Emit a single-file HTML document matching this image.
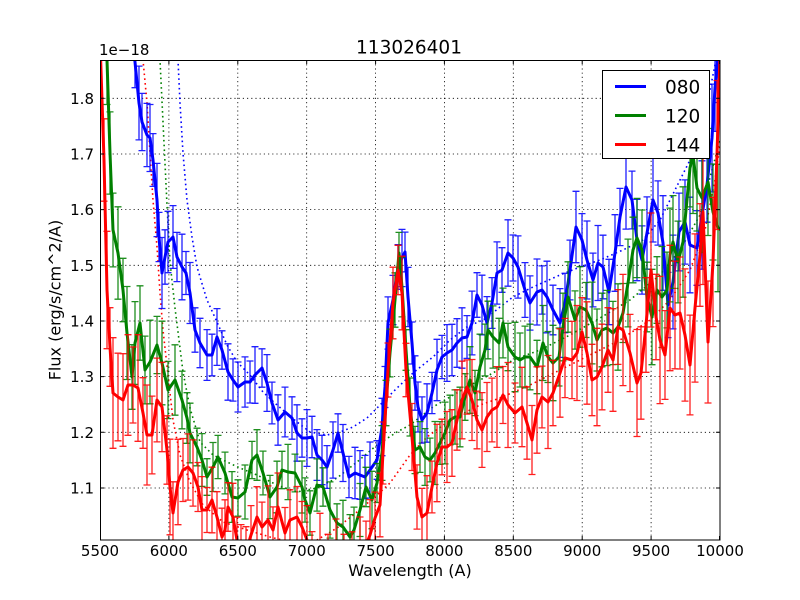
<!DOCTYPE html>
<html>
<head>
<meta charset="utf-8">
<style>
  html,body{margin:0;padding:0;background:#fff;}
  svg{display:block;}
  text{font-family:"DejaVu Sans","Liberation Sans",sans-serif;fill:#000;}
</style>
</head>
<body>
<svg id="chart" width="800" height="600" viewBox="0 0 800 600" xmlns="http://www.w3.org/2000/svg">
  <defs>
    <clipPath id="plot"><rect x="100" y="60" width="620" height="480"/></clipPath>
  </defs>
  <rect x="0" y="0" width="800" height="600" fill="#fff"/>
  <rect x="100" y="60" width="620" height="480" fill="#fff"/>

  <!-- grid -->
  <g stroke="#000" stroke-width="0.8" stroke-dasharray="1.2,3" fill="none">
    <line x1="168.9" y1="60" x2="168.9" y2="540"/>
    <line x1="237.8" y1="60" x2="237.8" y2="540"/>
    <line x1="306.7" y1="60" x2="306.7" y2="540"/>
    <line x1="375.6" y1="60" x2="375.6" y2="540"/>
    <line x1="444.4" y1="60" x2="444.4" y2="540"/>
    <line x1="513.3" y1="60" x2="513.3" y2="540"/>
    <line x1="582.2" y1="60" x2="582.2" y2="540"/>
    <line x1="651.1" y1="60" x2="651.1" y2="540"/>
    <line x1="100" y1="488" x2="720" y2="488"/>
    <line x1="100" y1="432.3" x2="720" y2="432.3"/>
    <line x1="100" y1="376.6" x2="720" y2="376.6"/>
    <line x1="100" y1="321" x2="720" y2="321"/>
    <line x1="100" y1="265.3" x2="720" y2="265.3"/>
    <line x1="100" y1="209.6" x2="720" y2="209.6"/>
    <line x1="100" y1="154" x2="720" y2="154"/>
    <line x1="100" y1="98.3" x2="720" y2="98.3"/>
  </g>

  <g clip-path="url(#plot)">
    <!-- dotted continuum curves -->
    <polyline fill="none" stroke="#0000ff" stroke-width="1.6" stroke-dasharray="1.6,3.2" points="176,40 178,60 180,103 183,153 187,200 192,237 197,267 207,300 217,322 227,345 237,362 250,375 263,392 277,405 297,422 310,432 327,435 340,432 353,427 367,418 383,402 397,388 413,373 433,357 450,340 467,327 487,318 500,307 513,297 533,287 560,275 580,267 600,260 623,250 643,240 660,220 670,200 680,180 690,160 700,130 710,90 717,55 720,40"/>
    <polyline fill="none" stroke="#008000" stroke-width="1.6" stroke-dasharray="1.6,3.2" points="158,20 160,60 163,122 167,205 170,262 175,308 183,372 190,408 200,442 213,455 227,462 240,468 257,475 277,485 297,492 317,488 337,478 357,462 377,445 397,432 410,425 433,407 450,397 467,387 493,373 513,360 540,350 570,335 600,318 630,300 660,275 680,250 700,215 712,170 720,140"/>
    <polyline fill="none" stroke="#ff0000" stroke-width="1.6" stroke-dasharray="1.6,3.2" points="142,40 143,60 147,103 150,153 153,200 157,247 160,293 163,330 168,375 173,420 180,455 190,482 203,505 223,522 247,530 270,537 290,542 317,540 337,528 357,512 377,495 390,483 410,455 427,437 450,420 480,405 500,398 530,385 560,370 590,355 620,340 650,320 670,300 690,270 705,230 715,180 722,130"/>

    <!-- blue series -->
    <g id="eb-blue"></g>
    <polyline id="blue" fill="none" stroke="#0000ff" stroke-width="3" stroke-linejoin="round" points="100,-300 112,-150 122,-50 130,20 135,62 139,103 142,122 147,135 150,138 153,160 157,200 159,237 162,273 165,257 168,242 173,237 177,257 182,267 186,273 190,293 195,330 200,343 207,355 212,355 217,337 222,350 228,372 233,380 238,387 245,382 250,382 255,375 262,368 267,383 272,403 278,420 285,412 292,418 297,433 302,438 307,438 312,437 317,455 322,460 327,467 333,450 338,433 343,453 349,477 355,473 360,475 365,477 370,470 377,460 382,427 385,387 388,323 393,300 398,267 402,258 405,252 408,297 412,343 415,383 418,407 422,420 427,413 432,393 437,370 442,357 447,353 452,350 457,343 462,338 467,337 472,323 477,295 482,305 487,323 492,303 497,273 502,270 508,253 513,258 518,267 525,290 530,303 537,292 542,290 547,297 553,310 560,323 565,303 570,270 576,227 582,240 587,260 593,280 598,263 603,267 609,292 615,253 620,217 626,187 632,200 637,240 642,260 647,233 653,200 658,213 663,243 668,305 673,282 679,232 685,222 690,245 697,248 702,215 707,185 712,138 715,88 718,55 721,20"/>

    <!-- green series -->
    <g id="eb-green"></g>
    <polyline id="green" fill="none" stroke="#008000" stroke-width="3" stroke-linejoin="round" points="100,-200 104,0 107,60 110,153 113,230 118,253 123,290 127,333 132,377 135,343 140,323 145,370 150,362 157,345 162,363 168,390 175,380 182,400 187,418 190,433 197,447 202,460 207,477 213,467 218,457 225,473 232,497 238,498 245,492 252,460 257,455 263,473 270,497 277,487 282,470 288,472 295,473 302,487 305,500 310,513 317,485 323,487 330,510 337,523 343,527 350,537 354,530 360,510 366,487 372,500 377,483 382,453 386,403 390,353 395,300 399,253 402,287 406,350 410,407 415,450 420,447 425,457 430,460 435,453 440,443 445,433 450,420 455,417 460,417 465,397 470,380 475,393 480,367 485,350 488,330 493,337 499,343 503,323 508,347 515,357 520,360 525,357 530,357 537,367 543,343 548,357 553,363 559,357 563,327 568,297 575,320 580,307 586,310 592,323 597,340 602,330 607,328 613,333 618,327 623,313 628,283 633,250 637,238 642,250 647,297 652,317 657,290 662,297 667,290 670,255 673,242 678,262 683,242 690,168 693,155 697,188 702,198 708,182 713,212 718,228 721,230"/>

    <!-- red series -->
    <g id="eb-red"></g>
    <polyline id="red" fill="none" stroke="#ff0000" stroke-width="3" stroke-linejoin="round" points="100,40 104,160 107,290 110,347 113,393 118,397 123,400 128,385 133,385 138,388 143,413 147,435 152,435 157,400 162,407 167,450 170,487 173,513 178,482 183,470 188,467 193,473 198,487 202,510 207,510 212,500 217,517 222,537 225,530 228,507 233,517 237,540 241,558 246,552 251,535 257,517 262,527 268,520 273,530 278,507 285,533 290,520 297,517 302,527 307,540 312,555 320,548 328,560 336,550 344,565 352,558 360,552 366,545 370,535 375,518 380,505 383,453 388,370 393,303 398,270 402,293 406,370 412,437 417,497 422,517 427,513 432,487 437,463 442,447 447,447 452,443 457,420 462,400 467,387 472,400 477,420 482,430 487,417 492,410 497,407 503,395 508,405 515,413 522,407 527,423 532,440 537,410 542,397 548,402 553,393 560,373 565,358 572,360 577,353 582,332 587,353 592,380 597,377 602,367 608,350 613,360 618,327 623,330 630,353 637,383 641,373 646,325 651,270 656,317 660,340 665,355 670,308 675,315 680,313 685,335 690,365 695,308 700,255 703,212 708,342 713,262 717,155 720,55"/>
  </g>

  <!-- ticks -->
  <g stroke="#000" stroke-width="1" fill="none">
    <path d="M100.5 540V536 M168.9 540V536 M237.8 540V536 M306.7 540V536 M375.6 540V536 M444.4 540V536 M513.3 540V536 M582.2 540V536 M651.1 540V536 M719.5 540V536
             M100.5 60V64 M168.9 60V64 M237.8 60V64 M306.7 60V64 M375.6 60V64 M444.4 60V64 M513.3 60V64 M582.2 60V64 M651.1 60V64 M719.5 60V64
             M100 488H104 M100 432.3H104 M100 376.6H104 M100 321H104 M100 265.3H104 M100 209.6H104 M100 154H104 M100 98.3H104
             M720 488H716 M720 432.3H716 M720 376.6H716 M720 321H716 M720 265.3H716 M720 209.6H716 M720 154H716 M720 98.3H716"/>
  </g>

  <!-- frame -->
  <rect x="100.5" y="60.5" width="619.5" height="479.5" fill="none" stroke="#000" stroke-width="1"/>

  <!-- legend -->
  <rect x="602.5" y="70.5" width="107" height="88" fill="#fff" stroke="#000" stroke-width="1"/>
  <line x1="615" y1="86.5" x2="646" y2="86.5" stroke="#0000ff" stroke-width="3"/>
  <line x1="615" y1="115.5" x2="646" y2="115.5" stroke="#008000" stroke-width="3"/>
  <line x1="615" y1="144.5" x2="646" y2="144.5" stroke="#ff0000" stroke-width="3"/>
  <text x="665" y="93.5" font-size="18.5">080</text>
  <text x="665" y="122.5" font-size="18.5">120</text>
  <text x="665" y="151.5" font-size="18.5">144</text>

  <!-- title & labels -->
  <text x="409" y="53.5" font-size="18.5" text-anchor="middle">113026401</text>
  <text x="99" y="55" font-size="15">1e−18</text>

  <g font-size="15" text-anchor="middle">
    <text x="100" y="556">5500</text>
    <text x="168.9" y="556">6000</text>
    <text x="237.8" y="556">6500</text>
    <text x="306.7" y="556">7000</text>
    <text x="375.6" y="556">7500</text>
    <text x="444.4" y="556">8000</text>
    <text x="513.3" y="556">8500</text>
    <text x="582.2" y="556">9000</text>
    <text x="651.1" y="556">9500</text>
    <text x="720" y="556">10000</text>
  </g>
  <g font-size="15" text-anchor="end">
    <text x="94" y="493.5">1.1</text>
    <text x="94" y="437.8">1.2</text>
    <text x="94" y="382.1">1.3</text>
    <text x="94" y="326.5">1.4</text>
    <text x="94" y="270.8">1.5</text>
    <text x="94" y="215.1">1.6</text>
    <text x="94" y="159.5">1.7</text>
    <text x="94" y="103.8">1.8</text>
  </g>

  <text x="410" y="576" font-size="16" text-anchor="middle">Wavelength (A)</text>
  <text x="0" y="0" font-size="16" text-anchor="middle" transform="translate(60.5,300) rotate(-90)">Flux (erg/s/cm^2/A)</text>
</svg>

<script>
(function(){
  var ns = 'http://www.w3.org/2000/svg';
  var cfg = [
    ['blue',  '#0000ff', [[100,34],[170,30],[200,24],[380,24],[520,28],[640,36],[720,48]]],
    ['green', '#008000', [[100,42],[170,34],[200,22],[380,24],[520,30],[640,38],[720,55]]],
    ['red',   '#ff0000', [[100,50],[170,40],[200,28],[380,30],[520,36],[640,48],[720,68]]]
  ];
  function interp(c, x){
    if (x <= c[0][0]) return c[0][1];
    for (var i = 1; i < c.length; i++){
      if (x <= c[i][0]){
        var t = (x - c[i-1][0]) / (c[i][0] - c[i-1][0]);
        return c[i-1][1] + t * (c[i][1] - c[i-1][1]);
      }
    }
    return c[c.length-1][1];
  }
  cfg.forEach(function(s, si){
    var line = document.getElementById(s[0]);
    var pts = line.getAttribute('points').trim().split(/\s+/).map(function(p){
      return p.split(',').map(Number);
    });
    var d = '';
    pts.forEach(function(p, i){
      var x = p[0], y = p[1];
      if (x < 101 || x > 719 || y < -40) return;
      var e = interp(s[2], x) * (1 + 0.2 * Math.sin(i * 2.7 + si * 1.3));
      var y1 = (y - e).toFixed(1), y2 = (y + e).toFixed(1);
      d += 'M' + x + ' ' + y1 + 'V' + y2 +
           'M' + (x - 3.5) + ' ' + y1 + 'H' + (x + 3.5) +
           'M' + (x - 3.5) + ' ' + y2 + 'H' + (x + 3.5);
    });
    var path = document.createElementNS(ns, 'path');
    path.setAttribute('d', d);
    path.setAttribute('fill', 'none');
    path.setAttribute('stroke', s[1]);
    path.setAttribute('stroke-width', '1.3');
    path.setAttribute('stroke-opacity', '0.88');
    document.getElementById('eb-' + s[0]).appendChild(path);
  });
})();
</script>
</body>
</html>
